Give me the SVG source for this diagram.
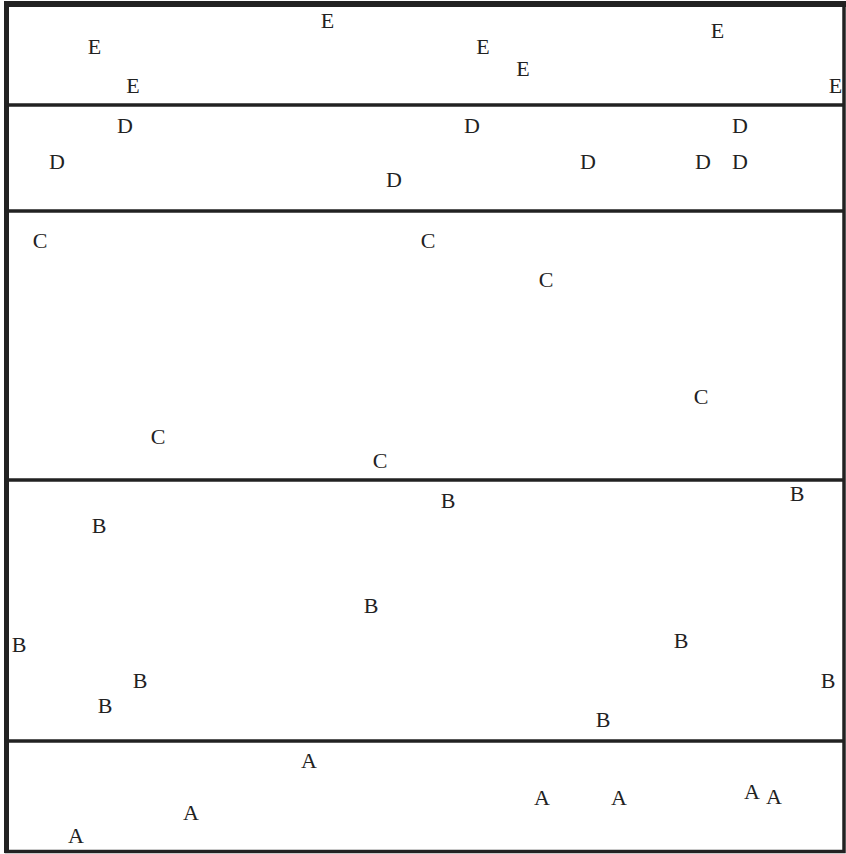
<svg xmlns="http://www.w3.org/2000/svg" width="846" height="854" viewBox="0 0 846 854">
<style>
.t{font-family:"Liberation Serif","Times New Roman",serif;font-size:22px;fill:#222;text-anchor:middle}
.ln{stroke:#222;fill:none}
</style>
<rect width="846" height="854" fill="#fff"/>
<g id="frame">
<rect class="ln" x="6.5" y="4" width="837.5" height="847.5" stroke-width="3.5"/>
<line class="ln" x1="4" y1="4" x2="846" y2="4" stroke-width="6"/>
<line class="ln" x1="6.5" y1="1" x2="6.5" y2="853" stroke-width="5"/>
</g>
<g id="dividers">
<line class="ln" x1="6" y1="105" x2="844" y2="105" stroke-width="3.5"/>
<line class="ln" x1="6" y1="211" x2="844" y2="211" stroke-width="3.5"/>
<line class="ln" x1="6" y1="480" x2="844" y2="480" stroke-width="3.5"/>
<line class="ln" x1="6" y1="741" x2="844" y2="741" stroke-width="3.5"/>
</g>
<g id="layer-E">
<text class="t" x="327.5" y="28">E</text>
<text class="t" x="94.5" y="54">E</text>
<text class="t" x="483" y="54">E</text>
<text class="t" x="523" y="76">E</text>
<text class="t" x="717.5" y="38">E</text>
<text class="t" x="133" y="93">E</text>
<text class="t" x="835.5" y="93">E</text>
</g>
<g id="layer-D">
<text class="t" x="125" y="133">D</text>
<text class="t" x="472" y="133">D</text>
<text class="t" x="740" y="133">D</text>
<text class="t" x="57" y="169">D</text>
<text class="t" x="588" y="169">D</text>
<text class="t" x="703" y="169">D</text>
<text class="t" x="740" y="169">D</text>
<text class="t" x="394" y="187">D</text>
</g>
<g id="layer-C">
<text class="t" x="40" y="248">C</text>
<text class="t" x="428" y="248">C</text>
<text class="t" x="546" y="287">C</text>
<text class="t" x="701" y="404">C</text>
<text class="t" x="158" y="444">C</text>
<text class="t" x="380" y="468">C</text>
</g>
<g id="layer-B">
<text class="t" x="448" y="508">B</text>
<text class="t" x="797" y="501">B</text>
<text class="t" x="99" y="533">B</text>
<text class="t" x="371" y="613">B</text>
<text class="t" x="19" y="652">B</text>
<text class="t" x="681" y="648">B</text>
<text class="t" x="140" y="688">B</text>
<text class="t" x="828" y="688">B</text>
<text class="t" x="105" y="713">B</text>
<text class="t" x="603" y="727">B</text>
</g>
<g id="layer-A">
<text class="t" x="309" y="768">A</text>
<text class="t" x="191" y="820">A</text>
<text class="t" x="542" y="805">A</text>
<text class="t" x="619" y="805">A</text>
<text class="t" x="752" y="799">A</text>
<text class="t" x="774" y="804">A</text>
<text class="t" x="76" y="843">A</text>
</g>
</svg>
